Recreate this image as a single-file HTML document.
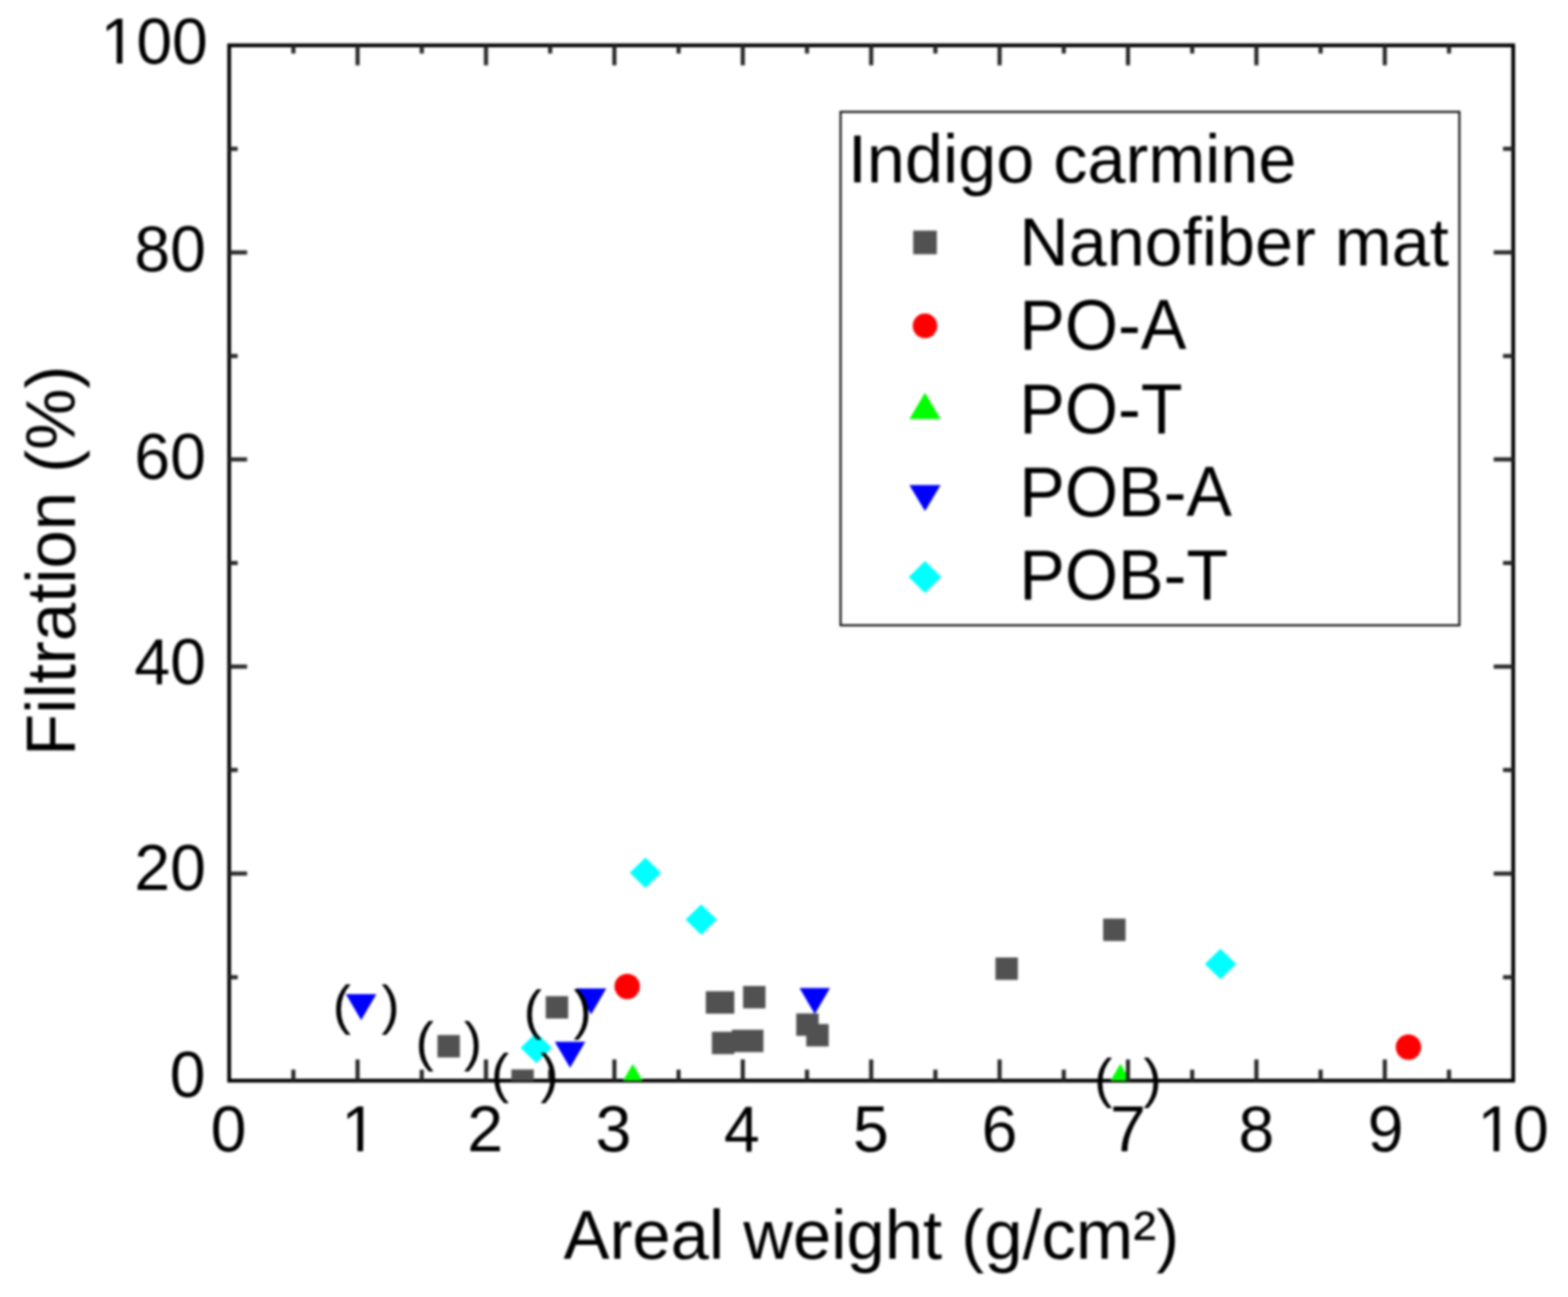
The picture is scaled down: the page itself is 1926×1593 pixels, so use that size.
<!DOCTYPE html>
<html><head><meta charset="utf-8"><title>Filtration vs Areal weight</title>
<style>
html,body{margin:0;padding:0;background:#fff;}
body{width:1926px;height:1593px;overflow:hidden;}
svg{display:block;font-family:'Liberation Sans', Arial, sans-serif;fill:#000;filter:blur(1.6px);}
text{fill:#000;}
</style></head><body>
<svg width="1926" height="1593" viewBox="0 0 1926 1593">
<defs><clipPath id="pc"><rect x="281.50" y="55.70" width="1577.20" height="1271.60"/></clipPath></defs>
<rect width="1926" height="1593" fill="#fff"/>
<rect x="281.50" y="55.70" width="1577.20" height="1271.60" fill="none" stroke="#000" stroke-width="4.6"/>
<g clip-path="url(#pc)">
<path fill="#515151" d="M537.35 1271.25h27.5v27.5h-27.5ZM628.15 1313.55h27.5v27.5h-27.5ZM670.35 1223.45h27.5v27.5h-27.5ZM866.95 1217.50h27.5v27.5h-27.5ZM874.45 1217.50h27.5v27.5h-27.5ZM912.75 1210.95h27.5v27.5h-27.5ZM874.45 1267.25h27.5v27.5h-27.5ZM898.95 1264.75h27.5v27.5h-27.5ZM910.25 1264.75h27.5v27.5h-27.5ZM978.05 1244.75h27.5v27.5h-27.5ZM990.35 1257.85h27.5v27.5h-27.5ZM1222.75 1175.95h27.5v27.5h-27.5ZM1355.05 1128.25h27.5v27.5h-27.5Z"/>
<circle cx="770.40" cy="1211.60" r="15.6" fill="#f00"/>
<circle cx="1730.00" cy="1286.10" r="15.6" fill="#f00"/>
<path d="M777.30 1306.70L796.05 1338.70L758.55 1338.70Z" fill="#0f0"/>
<path d="M1376.20 1306.50L1394.95 1338.50L1357.45 1338.50Z" fill="#0f0"/>
<path d="M424.85 1221.00L462.35 1221.00L443.60 1253.00Z" fill="#00f"/>
<path d="M681.45 1279.40L718.95 1279.40L700.20 1311.40Z" fill="#00f"/>
<path d="M707.25 1214.10L744.75 1214.10L726.00 1246.10Z" fill="#00f"/>
<path d="M982.05 1213.50L1019.55 1213.50L1000.80 1245.50Z" fill="#00f"/>
<path d="M658.70 1268.15L677.95 1286.90L658.70 1305.65L639.45 1286.90Z" fill="#0ff"/>
<path d="M792.80 1053.25L812.05 1072.00L792.80 1090.75L773.55 1072.00Z" fill="#0ff"/>
<path d="M861.30 1110.75L880.55 1129.50L861.30 1148.25L842.05 1129.50Z" fill="#0ff"/>
<path d="M1499.20 1165.35L1518.45 1184.10L1499.20 1202.85L1479.95 1184.10Z" fill="#0ff"/>
</g>
<path d="M360.36 1327.30V1313.80M360.36 55.70V65.70M439.22 1327.30V1301.30M439.22 55.70V80.20M518.08 1327.30V1313.80M518.08 55.70V65.70M596.94 1327.30V1301.30M596.94 55.70V80.20M675.80 1327.30V1313.80M675.80 55.70V65.70M754.66 1327.30V1301.30M754.66 55.70V80.20M833.52 1327.30V1313.80M833.52 55.70V65.70M912.38 1327.30V1301.30M912.38 55.70V80.20M991.24 1327.30V1313.80M991.24 55.70V65.70M1070.10 1327.30V1301.30M1070.10 55.70V80.20M1148.96 1327.30V1313.80M1148.96 55.70V65.70M1227.82 1327.30V1301.30M1227.82 55.70V80.20M1306.68 1327.30V1313.80M1306.68 55.70V65.70M1385.54 1327.30V1301.30M1385.54 55.70V80.20M1464.40 1327.30V1313.80M1464.40 55.70V65.70M1543.26 1327.30V1301.30M1543.26 55.70V80.20M1622.12 1327.30V1313.80M1622.12 55.70V65.70M1700.98 1327.30V1301.30M1700.98 55.70V80.20M1779.84 1327.30V1313.80M1779.84 55.70V65.70M281.50 1200.14H292.00M1858.70 1200.14H1846.20M281.50 1072.98H303.50M1858.70 1072.98H1834.70M281.50 945.82H292.00M1858.70 945.82H1846.20M281.50 818.66H303.50M1858.70 818.66H1834.70M281.50 691.50H292.00M1858.70 691.50H1846.20M281.50 564.34H303.50M1858.70 564.34H1834.70M281.50 437.18H292.00M1858.70 437.18H1846.20M281.50 310.02H303.50M1858.70 310.02H1834.70M281.50 182.86H292.00M1858.70 182.86H1846.20" stroke="#262626" stroke-width="5.0" fill="none"/>
<text x="280.80" y="1413.6" font-size="79" text-anchor="middle">0</text>
<text x="441.15" y="1413.6" font-size="79" text-anchor="middle">1</text>
<text x="595.95" y="1413.6" font-size="79" text-anchor="middle">2</text>
<text x="753.45" y="1413.6" font-size="79" text-anchor="middle">3</text>
<text x="911.25" y="1413.6" font-size="79" text-anchor="middle">4</text>
<text x="1069.60" y="1413.6" font-size="79" text-anchor="middle">5</text>
<text x="1227.82" y="1413.6" font-size="79" text-anchor="middle">6</text>
<text x="1385.54" y="1413.6" font-size="79" text-anchor="middle">7</text>
<text x="1543.26" y="1413.6" font-size="79" text-anchor="middle">8</text>
<text x="1702.00" y="1413.6" font-size="79" text-anchor="middle">9</text>
<text x="1858.60" y="1413.6" font-size="79" text-anchor="middle">10</text>
<text x="255.30" y="78.00" font-size="79" text-anchor="end">100</text>
<text x="252.90" y="332.60" font-size="79" text-anchor="end">80</text>
<text x="252.90" y="587.50" font-size="79" text-anchor="end">60</text>
<text x="252.90" y="840.10" font-size="79" text-anchor="end">40</text>
<text x="252.90" y="1093.20" font-size="79" text-anchor="end">20</text>
<text x="252.40" y="1347.00" font-size="79" text-anchor="end">0</text>
<rect x="424.20" y="1407.58" width="14.85" height="7.52" fill="#fff"/><rect x="446.03" y="1407.58" width="15.01" height="7.52" fill="#fff"/>
<rect x="1819.68" y="1407.58" width="14.85" height="7.52" fill="#fff"/><rect x="1841.51" y="1407.58" width="15.01" height="7.52" fill="#fff"/>
<rect x="128.51" y="71.98" width="14.85" height="7.52" fill="#fff"/><rect x="150.34" y="71.98" width="15.01" height="7.52" fill="#fff"/>
<text x="1070.3" y="1546.3" font-size="84.5" text-anchor="middle">Areal weight (g/cm²)</text>
<text transform="translate(91.6 688.8) rotate(-90)" font-size="84.6" text-anchor="middle">Filtration (%)</text>
<text x="408.68" y="1256.91" font-size="67">(</text><text x="468.50" y="1256.91" font-size="67">)</text>
<text x="510.58" y="1301.61" font-size="67">(</text><text x="569.70" y="1301.61" font-size="67">)</text>
<text x="602.98" y="1341.31" font-size="67">(</text><text x="663.80" y="1341.31" font-size="67">)</text>
<text x="643.18" y="1262.51" font-size="67">(</text><text x="704.50" y="1262.51" font-size="67">)</text>
<text x="1343.98" y="1346.91" font-size="67">(</text><text x="1404.50" y="1346.91" font-size="67">)</text>
<rect x="1032.5" y="137.4" width="760.1" height="630.6" fill="none" stroke="#000" stroke-width="2.4"/>
<text x="1041.5" y="223.8" font-size="84">Indigo carmine</text>
<text x="1252.0" y="326.4" font-size="84">Nanofiber mat</text>
<text transform="translate(1252.0 429.0) scale(1 1.035)" font-size="84">PO-A</text>
<text transform="translate(1252.0 531.6) scale(1 1.035)" font-size="84">PO-T</text>
<text transform="translate(1252.0 633.6) scale(1 1.035)" font-size="84">POB-A</text>
<text transform="translate(1252.0 736.2) scale(1 1.035)" font-size="84">POB-T</text>
<rect x="1121.70" y="283.30" width="29" height="29" fill="#515151"/>
<circle cx="1136.20" cy="400.20" r="15.1" fill="#f00"/>
<path d="M1136.20 482.30L1155.40 514.80L1117.00 514.80Z" fill="#0f0"/>
<path d="M1117.00 595.80L1155.40 595.80L1136.20 627.80Z" fill="#00f"/>
<path d="M1136.20 689.05L1156.20 708.80L1136.20 728.55L1116.20 708.80Z" fill="#0ff"/>
</svg>
</body></html>
